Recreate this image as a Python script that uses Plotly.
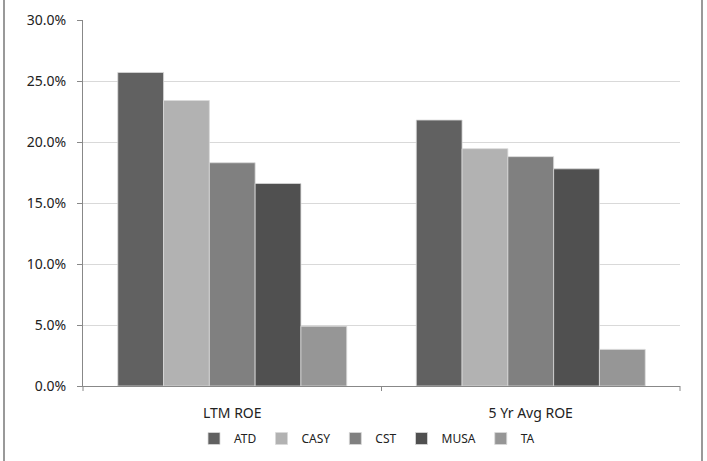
import plotly.graph_objects as go

categories = ["LTM ROE", "5 Yr Avg ROE"]
series_names = ["ATD", "CASY", "CST", "MUSA", "TA"]
atd = [25.7, 21.8]
casy = [23.4, 19.45]
cst = [18.3, 18.8]
musa = [16.6, 17.8]
ta = [4.9, 3.0]
y_ticks = [0, 5, 10, 15, 20, 25, 30]

values = [atd, casy, cst, musa, ta]
colors = ["#616161", "#b2b2b2", "#808080", "#505050", "#969696"]

fig = go.Figure()
for name, vals, col in zip(series_names, values, colors):
    fig.add_trace(go.Bar(
        name=name, x=categories, y=vals,
        marker=dict(color=col, line=dict(color="#d9d9d9", width=0.8)),
    ))

W, H = 707, 461
L, R, T, B = 83, 27, 20, 75
pw = W - L - R
ph = H - T - B

def px_x(px):
    return (px - L) / pw

def px_y(py):
    return (H - B - py) / ph

fig.update_layout(
    width=W, height=H,
    margin=dict(l=L, r=R, t=T, b=B, autoexpand=False),
    paper_bgcolor="white", plot_bgcolor="white",
    barmode="group", bargap=0.233, bargroupgap=0,
    font=dict(family="Noto Sans, Liberation Sans, sans-serif", color="#222222", size=14),
    showlegend=True,
    legend=dict(orientation="h", x=px_x(367), xanchor="center", y=px_y(424), yanchor="top",
                font=dict(size=12), traceorder="normal", itemwidth=30,
                tracegroupgap=0),
    xaxis=dict(showline=True, linecolor="#888888", linewidth=1,
               ticks="", ticklabelstandoff=14, tickfont=dict(size=14),
               showgrid=False),
    yaxis=dict(range=[0, 30], tickvals=y_ticks,
               ticktext=[f"{v:.1f}%" for v in y_ticks],
               showgrid=True, gridcolor="#d9d9d9", gridwidth=1,
               showline=True, linecolor="#888888", linewidth=1,
               ticks="outside", ticklen=5, tickcolor="#888888",
               ticklabelstandoff=8,
               tickfont=dict(size=14), zeroline=False),
    shapes=[
        dict(type="line", xref="paper", yref="paper",
             x0=px_x(4), x1=px_x(4), y0=px_y(0), y1=px_y(H),
             line=dict(color="#999999", width=2)),
        dict(type="line", xref="paper", yref="paper",
             x0=px_x(702), x1=px_x(702), y0=px_y(0), y1=px_y(H),
             line=dict(color="#999999", width=2)),
        dict(type="line", xref="paper", yref="paper",
             x0=0.5, x1=0.5, y0=0, y1=px_y(391),
             line=dict(color="#888888", width=1)),
        dict(type="line", xref="paper", yref="paper",
             x0=1, x1=1, y0=0, y1=px_y(391),
             line=dict(color="#888888", width=1)),
        dict(type="line", xref="paper", yref="paper",
             x0=0, x1=0, y0=0, y1=px_y(391),
             line=dict(color="#888888", width=1)),
    ],
)

fig.write_html(
    "out.html",
    config={"displayModeBar": False},
    post_script="document.body.style.margin='0';document.body.style.overflow='hidden';",
)
